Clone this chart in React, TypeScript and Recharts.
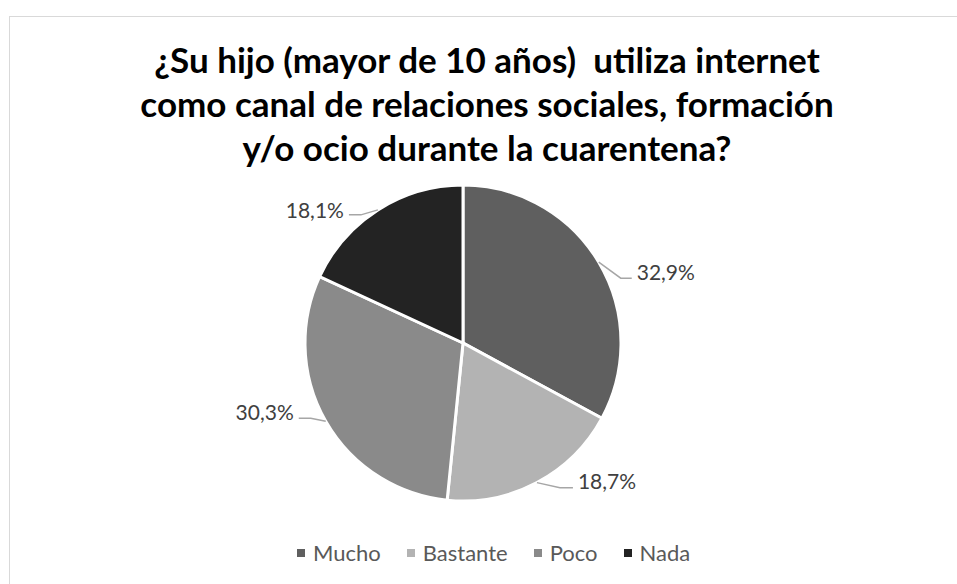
import { PieChart, Pie, Cell, Legend } from "recharts";

const categories = ["Mucho", "Bastante", "Poco", "Nada"];
const values = [32.9, 18.7, 30.3, 18.1];
const colors = ["#5f5f5f", "#b3b3b3", "#8a8a8a", "#232323"];

const titleLines = [
  "¿Su hijo (mayor de 10 años)  utiliza internet",
  "como canal de relaciones sociales, formación",
  "y/o ocio durante la cuarentena?",
];

// leader line elbows, relative to where the line leaves the slice edge
const LEADERS = [
  { dx: 22, dy: 16, run: 11, ty: -7 },
  { dx: 23, dy: 5, run: 13, ty: -7 },
  { dx: -15, dy: -3, run: -12, ty: -7 },
  { dx: -17, dy: 5, run: -12, ty: -5 },
];

const RAD = Math.PI / 180;
const FONT = "Lato, 'Open Sans', sans-serif";

const data = categories.map((name, i) => ({ name, value: values[i] }));

const renderLabel = (props: any) => {
  const { cx, cy, midAngle, outerRadius, index, value } = props;
  const sx = cx + outerRadius * Math.cos(-midAngle * RAD);
  const sy = cy + outerRadius * Math.sin(-midAngle * RAD);
  const l = LEADERS[index];
  const ex = sx + l.dx;
  const ey = sy + l.dy;
  const fx = ex + l.run;
  const right = l.run > 0;
  return (
    <g key={`lbl-${index}`}>
      <polyline
        points={`${sx},${sy} ${ex},${ey} ${fx},${ey}`}
        fill="none"
        stroke="#a6a6a6"
        strokeWidth={1.5}
      />
      <text
        x={fx + (right ? 5 : -5)}
        y={ey + l.ty}
        textAnchor={right ? "start" : "end"}
        dominantBaseline="central"
        fill="#404040"
        fontSize={21}
        fontFamily={FONT}
      >
        {value.toFixed(1).replace(".", ",")}%
      </text>
    </g>
  );
};

const LegendContent = () => (
  <div
    style={{
      position: "absolute",
      left: 297,
      top: 539,
      display: "flex",
      alignItems: "center",
      gap: 26,
      fontFamily: FONT,
      fontSize: 22,
      color: "#595959",
      whiteSpace: "nowrap",
    }}
  >
    {categories.map((c, i) => (
      <div key={c} style={{ display: "flex", alignItems: "center", gap: 8 }}>
        <span style={{ width: 8, height: 8, background: colors[i], display: "inline-block" }} />
        <span>{c}</span>
      </div>
    ))}
  </div>
);

export default function App() {
  return (
    <div
      style={{
        position: "absolute",
        left: 0,
        top: 0,
        width: 957,
        height: 584,
        background: "#fff",
        overflow: "hidden",
      }}
    >
      <div
        style={{
          position: "absolute",
          left: 9,
          top: 16,
          width: 1000,
          height: 600,
          borderLeft: "1.5px solid #d9d9d9",
          borderTop: "1.5px solid #d9d9d9",
        }}
      />
      {titleLines.map((t, i) => (
        <div
          key={i}
          style={{
            position: "absolute",
            left: 0,
            width: 974,
            top: 37 + i * 44,
            textAlign: "center",
            fontFamily: FONT,
            fontWeight: 700,
            fontSize: 35,
            lineHeight: "44px",
            color: "#000",
            whiteSpace: "pre",
          }}
        >
          {t}
        </div>
      ))}
      <div style={{ position: "absolute", left: 0, top: 0 }}>
        <PieChart width={957} height={584} margin={{ top: 0, right: 0, bottom: 0, left: 0 }}>
          <Pie
            data={data}
            dataKey="value"
            nameKey="name"
            cx={463}
            cy={343}
            outerRadius={158}
            startAngle={90}
            endAngle={-270}
            stroke="#ffffff"
            strokeWidth={3}
            label={renderLabel}
            labelLine={false}
            isAnimationActive={false}
          >
            {data.map((d, i) => (
              <Cell key={d.name} fill={colors[i]} />
            ))}
          </Pie>
          <Legend content={<LegendContent />} wrapperStyle={{ position: "absolute", left: 0, top: 0 }} />
        </PieChart>
      </div>
    </div>
  );
}
